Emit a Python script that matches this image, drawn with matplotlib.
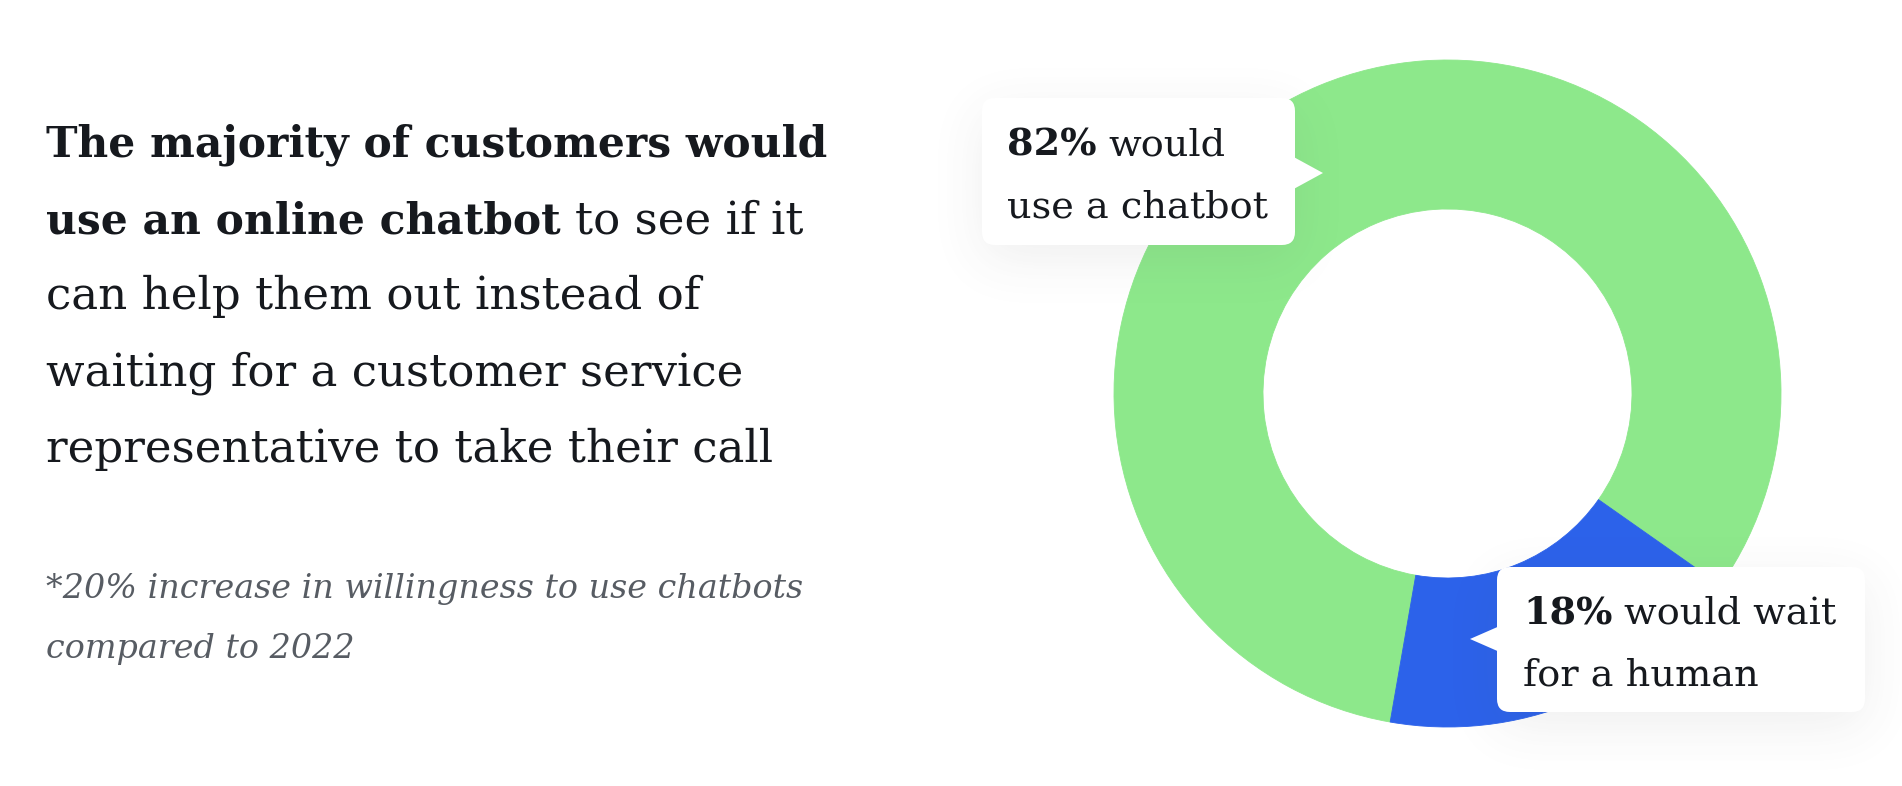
import math
import numpy as np
import matplotlib
matplotlib.use('Agg')
import matplotlib.pyplot as plt
from matplotlib.patches import FancyBboxPatch, Polygon

W, H = 1902, 786

# chart data
shares = [82, 18]
share_names = ['would use a chatbot', 'would wait for a human']
share_colors = ['#8de88b', '#2c62ea']

title_lines = [
    [('The majority of customers would', 'bold')],
    [('use an online chatbot', 'bold'), ('to see if it', 'normal')],
    [('can help them out instead of', 'normal')],
    [('waiting for a customer service', 'normal')],
    [('representative to take their call', 'normal')],
]
note_lines = ['*20% increase in willingness to use chatbots', 'compared to 2022']
chatbot_label = [[('82%', 'bold'), ('would', 'normal')], [('use a chatbot', 'normal')]]
human_label = [[('18%', 'bold'), ('would wait', 'normal')], [('for a human', 'normal')]]

TEXT = '#16191e'
NOTE = '#575c63'
FONT = 'DejaVu Serif'


def draw_runs(ax, x, y, parts, sizes, color, style='normal'):
    '''draw bold / regular runs one after the other on a baseline'''
    r = ax.figure.canvas.get_renderer()
    size = sizes['normal']
    probe1 = ax.text(0, 0, 'x x', fontsize=size, family=FONT, style=style)
    probe2 = ax.text(0, 0, 'xx', fontsize=size, family=FONT, style=style)
    gap = probe1.get_window_extent(r).width - probe2.get_window_extent(r).width
    probe1.remove()
    probe2.remove()
    for s, weight in parts:
        t = ax.text(x, y, s, fontsize=sizes[weight], fontweight=weight, style=style,
                    color=color, family=FONT, va='baseline', ha='left', zorder=5)
        x += t.get_window_extent(r).width + gap


def soft_shadow(x0, y0, x1, y1, sigma, alpha):
    '''gaussian blurred rectangle, done per axis with erf'''
    erf = np.vectorize(math.erf)
    k = sigma * math.sqrt(2)
    xs = np.arange(W) + 0.5
    ys = np.arange(H) + 0.5
    gx = 0.5 * (erf((xs - x0) / k) - erf((xs - x1) / k))
    gy = 0.5 * (erf((ys - y0) / k) - erf((ys - y1) / k))
    return alpha * np.outer(gy, gx)


fig = plt.figure(figsize=(W / 100, H / 100), dpi=100)
fig.patch.set_facecolor('white')

# donut
cx, cy, R, r_in = 1447.5, 393.5, 333.5, 184.5
ax = fig.add_axes([(cx - R) / W, (H - cy - R) / H, 2 * R / W, 2 * R / H])
wedges, _ = ax.pie(shares, colors=share_colors, startangle=-35.1, counterclock=True,
                   radius=1, wedgeprops=dict(width=1 - r_in / R, linewidth=0.6))
for w in wedges:
    w.set_edgecolor(w.get_facecolor())
ax.set_xlim(-1, 1)
ax.set_ylim(-1, 1)
ax.axis('off')

# overlay in pixel units for text and callouts
top = fig.add_axes([0, 0, 1, 1])
top.set_zorder(2)
top.axis('off')
top.patch.set_visible(False)

# card shadows
boxes = [(982, 98, 1295, 245), (1497, 567, 1865, 712)]
shade = np.zeros((H, W))
for x0, y0, x1, y1 in boxes:
    shade = shade + soft_shadow(x0, y0 + 14, x1, y1 + 14, 26, 0.09)
img = np.zeros((H, W, 4))
img[..., :3] = 0.3
img[..., 3] = np.clip(shade, 0, 1)
top.imshow(img, extent=(0, W, H, 0), interpolation='bilinear', zorder=1, aspect='auto')
top.set_xlim(0, W)
top.set_ylim(H, 0)

# callout cards with pointers
for x0, y0, x1, y1 in boxes:
    top.add_patch(FancyBboxPatch((x0, y0), x1 - x0, y1 - y0,
                                 boxstyle='round,pad=0,rounding_size=13',
                                 fc='white', ec='none', zorder=3))
top.add_patch(Polygon([(1290, 155), (1323, 173), (1290, 191)], closed=True,
                      fc='white', ec='none', zorder=3))
top.add_patch(Polygon([(1502, 625), (1470, 639), (1502, 653)], closed=True,
                      fc='white', ec='none', zorder=3))

# left headline
head = {'bold': 30.5, 'normal': 32.5}
for i, parts in enumerate(title_lines):
    draw_runs(top, 46, 157 + 76.2 * i, parts, head, TEXT)

# footnote
for i, line in enumerate(note_lines):
    draw_runs(top, 46, 598 + 60 * i, [(line, 'normal')], {'normal': 24}, NOTE, style='italic')

# callout texts
call = {'bold': 27.5, 'normal': 27.5}
for i, parts in enumerate(chatbot_label):
    draw_runs(top, 1007, 155 + 62 * i, parts, call, TEXT)
for i, parts in enumerate(human_label):
    draw_runs(top, 1523, 623 + 62 * i, parts, call, TEXT)

fig.savefig('out.png', dpi=100, facecolor='white')
